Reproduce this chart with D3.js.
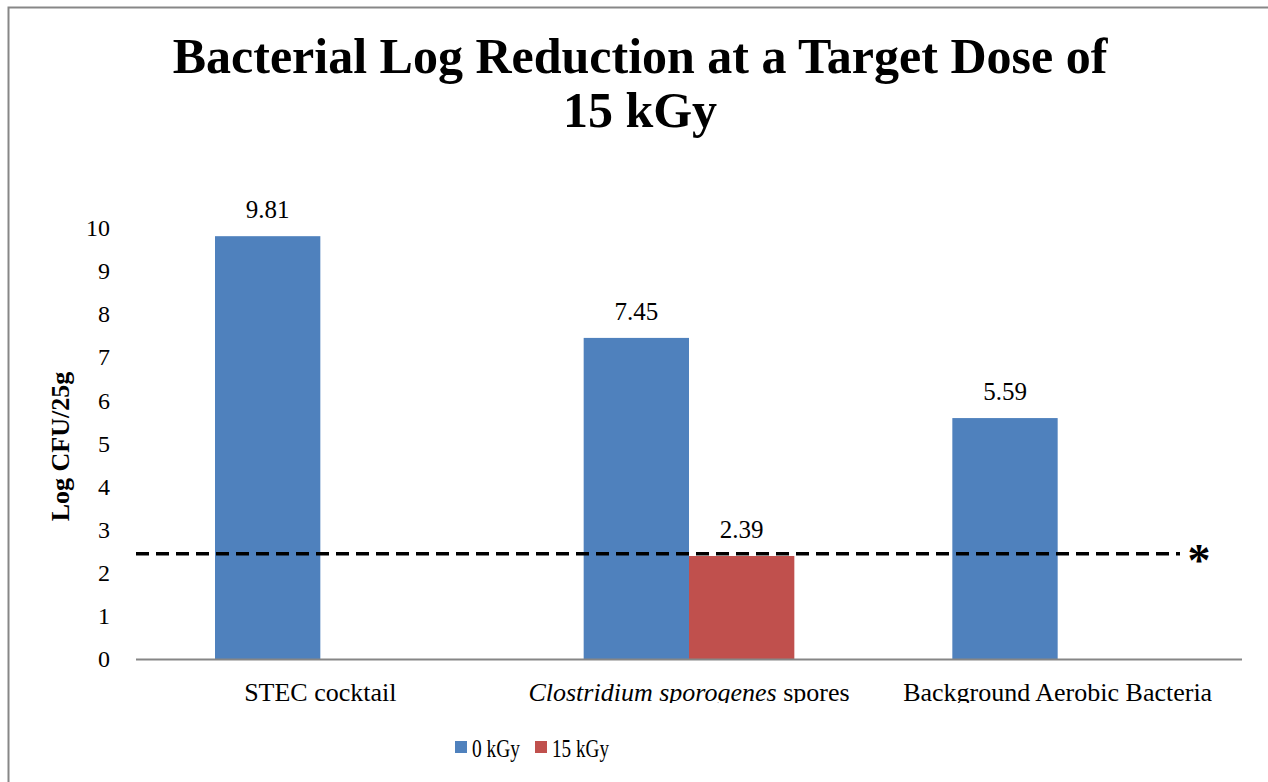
<!DOCTYPE html>
<html>
<head>
<meta charset="utf-8">
<script src="https://cdn.jsdelivr.net/npm/d3@7"></script>
<style>
  body { margin: 0; background: #fff; }
  text { font-family: "Liberation Serif", "Times New Roman", serif; fill: #000; }
</style>
</head>
<body>
<div id="chart"></div>
<script>
// Data
const categories = ["STEC cocktail", "Clostridium sporogenes spores", "Background Aerobic Bacteria"];
const seriesNames = ["0 kGy", "15 kGy"];
const values0kGy = [9.81, 7.45, 5.59];
const values15kGy = [null, 2.39, null];
const yTicks = [0, 1, 2, 3, 4, 5, 6, 7, 8, 9, 10];
const detectionLimit = 2.44;
const colors = ["#4F81BD", "#C0504D"];

const W = 1268, H = 782;
const plot = {left: 136, right: 1242, top: 228, bottom: 659};

const svg = d3.select("#chart")
    .append("svg")
    .attr("width", W)
    .attr("height", H);

// outer frame (runs past right and bottom edges)
svg.append("rect")
    .attr("x", 8.5).attr("y", 7.5)
    .attr("width", W + 10).attr("height", H + 10)
    .attr("fill", "none")
    .attr("stroke", "#878787")
    .attr("stroke-width", 2);

// Title
const title = svg.append("text")
    .attr("text-anchor", "middle")
    .style("font-size", "50px")
    .style("font-weight", "bold");
title.append("tspan").attr("x", 640).attr("y", 73).text("Bacterial Log Reduction at a Target Dose of");
title.append("tspan").attr("x", 640).attr("y", 127).text("15 kGy");

// Scales
const y = d3.scaleLinear()
    .domain([0, 10])
    .range([plot.bottom, plot.top]);

const x0 = d3.scaleBand()
    .domain(categories)
    .range([plot.left, plot.right]);

// Excel style gap width 150%
const barW = x0.bandwidth() / 3.5;
const x1 = d3.scaleBand()
    .domain(seriesNames)
    .range([0, barW * 2]);
const groupOffset = (x0.bandwidth() - barW * 2) / 2;

// Y axis (labels only)
const yAxis = svg.append("g")
    .attr("transform", `translate(${plot.left},0)`)
    .call(d3.axisLeft(y).tickValues(yTicks).tickSize(0).tickPadding(26));
yAxis.select(".domain").remove();
yAxis.selectAll("text")
    .style("font-size", "24px")
    .style("font-family", "'Liberation Serif', serif");

// Y title
svg.append("text")
    .attr("transform", `translate(69,${(plot.top + plot.bottom) / 2 + 3}) rotate(-90)`)
    .attr("text-anchor", "middle")
    .style("font-size", "26px")
    .style("font-weight", "bold")
    .text("Log CFU/25g");

// Bars
const rows = [];
categories.forEach((c, i) => {
    [values0kGy[i], values15kGy[i]].forEach((v, j) => {
        if (v != null) rows.push({cat: c, series: seriesNames[j], value: v, color: colors[j]});
    });
});

svg.selectAll(".bar")
    .data(rows)
    .enter()
    .append("rect")
    .attr("class", "bar")
    .attr("x", d => x0(d.cat) + groupOffset + x1(d.series))
    .attr("y", d => y(d.value))
    .attr("width", x1.bandwidth())
    .attr("height", d => y(0) - y(d.value))
    .attr("fill", d => d.color);

// value labels
svg.selectAll(".val")
    .data(rows)
    .enter()
    .append("text")
    .attr("class", "val")
    .attr("x", d => x0(d.cat) + groupOffset + x1(d.series) + x1.bandwidth() / 2)
    .attr("y", d => y(d.value) - 18)
    .attr("text-anchor", "middle")
    .style("font-size", "25px")
    .text(d => d.value.toFixed(2));

// X axis line
svg.append("line")
    .attr("x1", plot.left).attr("x2", plot.right)
    .attr("y1", y(0) + 0.5).attr("y2", y(0) + 0.5)
    .attr("stroke", "#868686")
    .attr("stroke-width", 2);

// clip for category labels (bottom cut off like the original)
svg.append("clipPath").attr("id", "labclip")
    .append("rect").attr("x", 0).attr("y", 660).attr("width", W).attr("height", 43);

const xl = svg.append("g").attr("clip-path", "url(#labclip)");
categories.forEach(c => {
    const t = xl.append("text")
        .attr("x", x0(c) + x0.bandwidth() / 2)
        .attr("y", 701)
        .attr("text-anchor", "middle")
        .style("font-size", "26px");
    if (c.startsWith("Clostridium")) {
        t.append("tspan").style("font-style", "italic").text("Clostridium sporogenes");
        t.append("tspan").text(" spores");
    } else {
        t.text(c);
    }
});

// detection limit dashed line
svg.append("line")
    .attr("x1", plot.left).attr("x2", 1180)
    .attr("y1", y(detectionLimit)).attr("y2", y(detectionLimit))
    .attr("stroke", "#000")
    .attr("stroke-width", 3.5)
    .attr("stroke-dasharray", "13,7");

svg.append("text")
    .attr("x", 1199)
    .attr("y", y(detectionLimit) + 22)
    .attr("text-anchor", "middle")
    .style("font-size", "46px")
    .style("font-weight", "bold")
    .text("*");

// Legend
const legendX = [455, 535];
const legendW = [48, 57];
const legend = svg.append("g");
seriesNames.forEach((s, i) => {
    legend.append("rect")
        .attr("x", legendX[i]).attr("y", 741)
        .attr("width", 12).attr("height", 12)
        .attr("fill", colors[i]);
    legend.append("text")
        .attr("x", legendX[i] + 17)
        .attr("y", 757)
        .attr("textLength", legendW[i])
        .attr("lengthAdjust", "spacingAndGlyphs")
        .style("font-size", "25px")
        .text(s);
});
</script>
</body>
</html>
